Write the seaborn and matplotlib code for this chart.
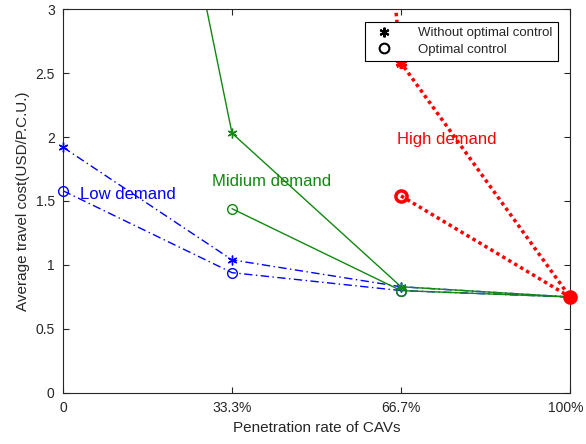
import numpy as np
import pandas as pd
import matplotlib
matplotlib.use("Agg")
import matplotlib.pyplot as plt
import matplotlib.transforms as mtransforms
from matplotlib.lines import Line2D
import seaborn as sns

# Penetration rate of CAVs
rate = [0.0, 1/3, 2/3, 1.0]
tick_labels = ["0", "33.3%", "66.7%", "100%"]

# Average travel cost (USD/P.C.U.)
low_without = [1.92, 1.04, 0.83, 0.75]
low_optimal = [1.58, 0.94, 0.80, 0.75]

mid_rate_without = [0.0, 1/3, 2/3, 1.0]
mid_without = [8.5, 2.03, 0.83, 0.75]
mid_rate_optimal = [1/3, 2/3, 1.0]
mid_optimal = [1.44, 0.80, 0.75]

high_rate_without = [1/3, 2/3, 1.0]
high_without = [16.0, 2.58, 0.75]
high_rate_optimal = [2/3, 1.0]
high_optimal = [1.54, 0.75]

YMAX = 3

sns.set_theme(style="white")
plt.rcParams["font.family"] = ["Liberation Sans", "DejaVu Sans"]

fig = plt.figure(figsize=(5.86, 4.44), dpi=100)
ax = fig.add_axes([0.1075, 0.1149, 0.8652, 0.8648])

star = (6, 2, 0)
dashdot = (0, (6, 2.5, 1, 2.5))
dotted = (0, (1, 1))

# (x, y, colour, linestyle, marker, linewidth, markersize, edge width)
series = [
    (rate, low_without, "#0000ff", dashdot, star, 1.0, 7, 1.0),
    (rate, low_optimal, "#0000ff", dashdot, "o", 1.0, 7, 1.0),
    (mid_rate_without, mid_without, "#118811", "-", star, 1.0, 7, 1.0),
    (mid_rate_optimal, mid_optimal, "#118811", "-", "o", 1.0, 7, 1.0),
    (high_rate_without, high_without, "#ff0000", dotted, star, 2.5, 8, 2.5),
    (high_rate_optimal, high_optimal, "#ff0000", dotted, "o", 2.5, 8, 2.5),
]

for xs, ys, col, ls, mk, lw, ms, mew in series:
    df = pd.DataFrame({"x": xs, "y": ys})
    # line segments, clipped to the axes
    sns.lineplot(data=df, x="x", y="y", ax=ax, color=col, linewidth=lw,
                 sort=False, legend=False)
    ax.lines[-1].set_linestyle(ls)
    # markers inside the y range, drawn unclipped so edge points stay whole
    inside = df[df["y"] <= YMAX]
    sns.lineplot(data=inside, x="x", y="y", ax=ax, color=col,
                 marker=mk, markersize=ms, markeredgewidth=mew,
                 markerfacecolor="none", markeredgecolor=col,
                 sort=False, legend=False)
    mline = ax.lines[-1]
    mline.set_linestyle("none")
    mline.set_clip_on(False)
    mline.set_zorder(3)

ax.set_xlim(0, 1)
ax.set_ylim(0, YMAX)
ax.set_xticks(rate)
ax.set_xticklabels(tick_labels)
ax.set_yticks([0, 0.5, 1, 1.5, 2, 2.5, 3])
ax.set_yticklabels(["0", "0.5", "1", "1.5", "2", "2.5", "3"])
ax.tick_params(direction="in", length=4, width=0.8, top=True, right=True,
               bottom=True, left=True, labelsize=10, colors="#262626",
               pad=6)
for s in ax.spines.values():
    s.set_color("#262626")
    s.set_linewidth(0.8)

# keep the last x tick label inside the figure edge
last = ax.get_xticklabels()[-1]
last.set_transform(last.get_transform() +
                   mtransforms.ScaledTranslation(-3 / 72, 0, fig.dpi_scale_trans))

ax.set_xlabel("Penetration rate of CAVs", fontsize=11, color="#262626")
ax.set_ylabel("Average travel cost(USD/P.C.U.)", fontsize=11, color="#262626")

ax.text(0.034, 1.55, "Low demand", color="#0000ff", fontsize=12, va="center")
ax.text(0.294, 1.65, "Midium demand", color="#118811", fontsize=12, va="center")
ax.text(0.659, 1.98, "High demand", color="#ff0000", fontsize=12, va="center")

handles = [
    Line2D([], [], color="black", linestyle="none", marker=star, markersize=7,
           markeredgewidth=1.5),
    Line2D([], [], color="black", linestyle="none", marker="o", markersize=7,
           markerfacecolor="none", markeredgewidth=1.5),
]
leg = ax.legend(handles, ["Without optimal control", "Optimal control"],
                loc="upper right", bbox_to_anchor=(0.976, 0.967), fontsize=9.5,
                frameon=True, fancybox=False, framealpha=1, edgecolor="black",
                borderpad=0.4, labelspacing=0.35, handletextpad=1.6,
                handlelength=2.0, borderaxespad=0)
leg.get_frame().set_linewidth(0.8)

fig.savefig("out.png", dpi=100)
